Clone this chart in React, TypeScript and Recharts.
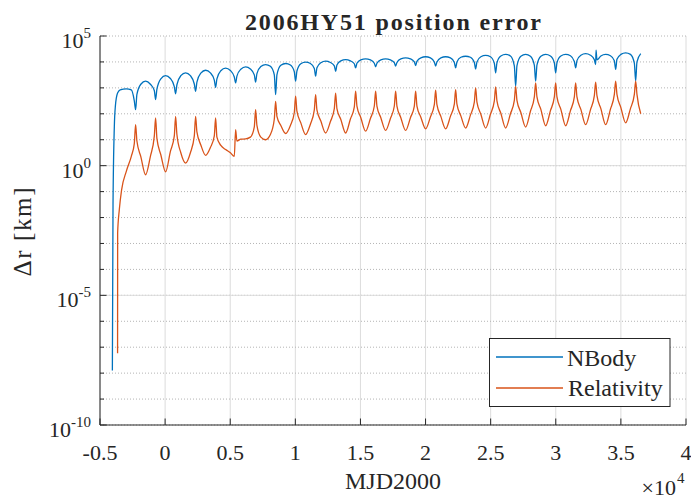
import React from 'react';
import { LineChart, Line, XAxis, YAxis, CartesianGrid, ReferenceLine } from 'recharts';

const FONT = 'Liberation Serif, Times New Roman, Times, serif';
const INK = '#262626';
const BLUE = '#0072BD';
const ORANGE = '#D95319';

const xTicks = [-5000, 0, 5000, 10000, 15000, 20000, 25000, 30000, 35000, 40000];
const xTickLabels = ['-0.5', '0', '0.5', '1', '1.5', '2', '2.5', '3', '3.5', '4'];
const yExponents = [-10, -9, -8, -7, -6, -5, -4, -3, -2, -1, 0, 1, 2, 3, 4, 5];

// values, stored as log10(km)
const nbodyStartMjd = [-4050, -4000, -3900, -3820, -3650, -3450, -2980, -2596, -2366];
const nbodyStartLogKm = [-7.9, -1.5, 1.5, 2.29, 2.8, 2.92, 2.96, 2.92, 2.5];

const relStartMjd = [-3650, -3645, -3518, -3341, -2980, -2596, -2366];
const relStartLogKm = [-7.23, -2.6, -1.7, -0.93, -0.22, 0.36, 0.85];

// one row per orbit (close approach first)
const cycleMjd = [
  -2266, -2166, -1866, -1498, -1130, -830,
  -730, -630, -330, 38, 406, 706,
  806, 906, 1206, 1574, 1942, 2242,
  2342, 2442, 2742, 3110, 3478, 3778,
  3878, 3978, 4278, 4646, 5014, 5314,
  5414, 5514, 5814, 6182, 6550, 6850,
  6950, 7050, 7350, 7718, 8086, 8386,
  8486, 8586, 8886, 9254, 9622, 9922,
  10022, 10122, 10422, 10790, 11158, 11458,
  11558, 11658, 11958, 12326, 12694, 12994,
  13094, 13194, 13494, 13862, 14230, 14530,
  14630, 14730, 15030, 15398, 15766, 16066,
  16166, 16266, 16566, 16934, 17302, 17602,
  17702, 17802, 18102, 18470, 18838, 19138,
  19238, 19338, 19638, 20006, 20374, 20674,
  20774, 20874, 21174, 21542, 21910, 22210,
  22310, 22410, 22710, 23078, 23446, 23746,
  23846, 23946, 24246, 24614, 24982, 25282,
  25382, 25482, 25782, 26150, 26518, 26818,
  26918, 27018, 27318, 27686, 28054, 28354,
  28454, 28554, 28854, 29222, 29590, 29890,
  29990, 30090, 30390, 30758, 31126, 31426,
  31526, 31626, 31926, 32294, 32662, 32962,
  33062, 33092, 33162, 33462, 33830, 34198, 34498,
  34598, 34698, 34998, 35366, 35734, 36034,
  36134, 36234, 36525,
];

const nbodyLogKm = [
  2.16, 2.75, 3.14, 3.26, 3.14, 2.9,
  2.55, 2.95, 3.35, 3.47, 3.36, 3.05,
  2.77, 3.12, 3.47, 3.58, 3.47, 3.15,
  2.87, 3.22, 3.57, 3.68, 3.58, 3.3,
  3.02, 3.35, 3.66, 3.76, 3.67, 3.42,
  3.19, 3.45, 3.72, 3.81, 3.73, 3.5,
  3.22, 3.55, 3.82, 3.9, 3.83, 3.5,
  2.74, 3.5, 3.87, 3.94, 3.88, 3.62,
  3.26, 3.65, 3.93, 3.99, 3.94, 3.75,
  3.45, 3.78, 3.97, 4.03, 3.98, 3.85,
  3.64, 3.88, 4.04, 4.09, 4.04, 3.93,
  3.77, 3.95, 4.08, 4.12, 4.08, 3.95,
  3.81, 3.95, 4.08, 4.12, 4.08, 3.97,
  3.84, 3.98, 4.12, 4.16, 4.12, 4.0,
  3.86, 4.02, 4.16, 4.2, 4.16, 4.0,
  3.84, 4.0, 4.16, 4.2, 4.16, 3.98,
  3.77, 4.0, 4.18, 4.22, 4.18, 3.98,
  3.73, 4.0, 4.2, 4.25, 4.2, 3.95,
  3.58, 3.97, 4.23, 4.29, 4.23, 3.85,
  3.06, 3.85, 4.22, 4.29, 4.22, 3.88,
  3.26, 3.88, 4.22, 4.29, 4.23, 3.97,
  3.58, 3.97, 4.23, 4.29, 4.24, 4.02,
  3.77, 4.05, 4.26, 4.32, 4.26, 4.08,
  3.9, 4.45, 4.08, 4.23, 4.29, 4.24, 4.05,
  3.71, 4.1, 4.29, 4.35, 4.29, 3.95,
  3.26, 4.0, 4.32,
];

const relLogKm = [
  1.58, 0.95, 0.35, -0.35, 0.36, 1.14,
  1.84, 1.05, 0.42, -0.24, 0.55, 1.15,
  1.9, 1.2, 0.5, 0.1, 0.5, 1.15,
  1.9, 1.3, 0.8, 0.4, 0.7, 1.15,
  1.84, 1.1, 0.78, 0.62, 0.5, 0.36,
  1.39, 0.95, 1.02, 1.03, 1.1, 1.5,
  2.16, 1.55, 1.1, 1.0, 1.2, 1.8,
  2.48, 1.9, 1.55, 1.24, 1.55, 2.05,
  2.68, 2.1, 1.65, 1.2, 1.6, 2.15,
  2.74, 2.15, 1.72, 1.26, 1.7, 2.2,
  2.8, 2.2, 1.78, 1.26, 1.8, 2.27,
  2.87, 2.3, 1.85, 1.33, 1.82, 2.3,
  2.87, 2.3, 1.85, 1.36, 1.82, 2.3,
  2.87, 2.3, 1.85, 1.36, 1.85, 2.3,
  2.87, 2.3, 1.87, 1.42, 1.88, 2.35,
  2.91, 2.35, 1.9, 1.42, 1.9, 2.37,
  2.93, 2.37, 1.92, 1.45, 1.95, 2.45,
  3.0, 2.45, 1.98, 1.45, 1.98, 2.5,
  3.04, 2.5, 2.02, 1.45, 2.0, 2.52,
  3.06, 2.52, 2.05, 1.49, 2.1, 2.65,
  3.19, 2.65, 2.17, 1.54, 2.12, 2.65,
  3.19, 2.65, 2.17, 1.54, 2.12, 2.65,
  3.19, 2.65, 2.17, 1.58, 2.15, 2.7,
  3.22, null, 2.7, 2.2, 1.58, 2.18, 2.75,
  3.26, 2.75, 2.24, 1.65, 2.2, 2.75,
  3.26, 2.75, 2.0,
];

const toSeries = (mjd: number[], logKm: (number | null)[]) =>
  mjd.map((x, i) => ({ mjd: x, km: logKm[i] == null ? null : 10 ** (logKm[i] as number) }));

const nbodyData = toSeries([...nbodyStartMjd, ...cycleMjd], [...nbodyStartLogKm, ...nbodyLogKm]);
const relData = toSeries([...relStartMjd, ...cycleMjd], [...relStartLogKm, ...relLogKm]);
const yTicks = yExponents.map((e) => 10 ** e);

const expOf = (v: number) => Math.round(Math.log10(v));
const textStyle = { fontFamily: FONT };

function LeftTick(props: any) {
  const { x, y, payload } = props;
  const e = expOf(payload.value);
  const major = e % 5 === 0;
  return (
    <g>
      <line x1={x} x2={x + (major ? 6.5 : 4)} y1={y} y2={y} stroke={INK} strokeWidth={1} />
      {major && (
        <text x={x - 9} y={y + 12} textAnchor="end" fontSize={22} fill={INK} style={textStyle}>
          10<tspan dy={-10} fontSize={15}>{e}</tspan>
        </text>
      )}
    </g>
  );
}

function RightTick(props: any) {
  const { x, y, payload } = props;
  const major = expOf(payload.value) % 5 === 0;
  return <line x1={x} x2={x - (major ? 6.5 : 4)} y1={y} y2={y} stroke={INK} strokeWidth={1} />;
}

function BottomTick(props: any) {
  const { x, y, payload } = props;
  const label = xTickLabels[xTicks.indexOf(payload.value)];
  return (
    <g>
      <line x1={x} x2={x} y1={y} y2={y - 6.5} stroke={INK} strokeWidth={1} />
      <text x={x} y={y + 35} textAnchor="middle" fontSize={22} fill={INK} style={textStyle}>
        {label}
      </text>
    </g>
  );
}

function TopTick(props: any) {
  const { x, y } = props;
  return <line x1={x} x2={x} y1={y} y2={y + 6.5} stroke={INK} strokeWidth={1} />;
}

export default function App() {
  return (
    <div style={{ position: 'absolute', left: 0, top: 0, width: 691, height: 499, background: '#fff', fontFamily: FONT }}>
      <LineChart width={691} height={499} margin={{ top: 36, right: 5, bottom: 44, left: 40 }}>
        <CartesianGrid xAxisId="b" yAxisId="l" horizontal={false} stroke="#dcdcdc" />
        <CartesianGrid xAxisId="b" yAxisId="l" vertical={false} stroke="#b4b4b4" strokeDasharray="1 2" />
        <ReferenceLine xAxisId="b" yAxisId="l" y={1} stroke="#dcdcdc" />
        <ReferenceLine xAxisId="b" yAxisId="l" y={1e-5} stroke="#dcdcdc" />
        <XAxis
          xAxisId="b"
          dataKey="mjd"
          type="number"
          domain={[-5000, 40000]}
          ticks={xTicks}
          interval={0}
          allowDataOverflow
          height={30}
          tickSize={0}
          tickMargin={0}
          tickLine={false}
          axisLine={{ stroke: INK }}
          tick={BottomTick}
        />
        <XAxis
          xAxisId="t"
          orientation="top"
          dataKey="mjd"
          type="number"
          domain={[-5000, 40000]}
          ticks={xTicks}
          interval={0}
          allowDataOverflow
          height={0}
          tickSize={0}
          tickMargin={0}
          tickLine={false}
          axisLine={{ stroke: INK }}
          tick={TopTick}
        />
        <YAxis
          yAxisId="l"
          scale="log"
          domain={[1e-10, 1e5]}
          ticks={yTicks}
          interval={0}
          allowDataOverflow
          width={60}
          tickSize={0}
          tickMargin={0}
          tickLine={false}
          axisLine={{ stroke: INK }}
          tick={LeftTick}
        />
        <YAxis
          yAxisId="r"
          orientation="right"
          scale="log"
          domain={[1e-10, 1e5]}
          ticks={yTicks}
          interval={0}
          allowDataOverflow
          width={0}
          tickSize={0}
          tickMargin={0}
          tickLine={false}
          axisLine={{ stroke: INK }}
          tick={RightTick}
        />
        <Line
          xAxisId="b"
          yAxisId="l"
          data={nbodyData}
          dataKey="km"
          name="NBody"
          type="monotoneX"
          stroke={BLUE}
          strokeWidth={1.3}
          dot={false}
          connectNulls
          isAnimationActive={false}
        />
        <Line
          xAxisId="b"
          yAxisId="l"
          data={relData}
          dataKey="km"
          name="Relativity"
          type="monotoneX"
          stroke={ORANGE}
          strokeWidth={1.3}
          dot={false}
          connectNulls
          isAnimationActive={false}
        />
      </LineChart>
      <svg
        width={691}
        height={499}
        style={{ position: 'absolute', left: 0, top: 0, pointerEvents: 'none', fontFamily: FONT }}
        fill={INK}
      >
        <text x={393} y={30} textAnchor="middle" fontSize={24} fontWeight="bold" textLength={296} lengthAdjust="spacing">
          2006HY51 position error
        </text>
        <text x={393} y={489} textAnchor="middle" fontSize={24}>
          MJD2000
        </text>
        <text transform="translate(31,232) rotate(-90)" textAnchor="middle" fontSize={25} textLength={89} lengthAdjust="spacing">
          Δr [km]
        </text>
        <text x={676} y={495} textAnchor="end" fontSize={22}>×10</text>
        <text x={677} y={483} fontSize={15}>4</text>
        <rect x={489.5} y={338.5} width={180.5} height={68} fill="#fff" stroke={INK} strokeWidth={1} />
        <line x1={496} x2={563} y1={357} y2={357} stroke={BLUE} strokeWidth={1.3} />
        <line x1={496} x2={563} y1={388} y2={388} stroke={ORANGE} strokeWidth={1.3} />
        <text x={567} y={366} fontSize={24}>NBody</text>
        <text x={568} y={396} fontSize={24}>Relativity</text>
      </svg>
    </div>
  );
}
